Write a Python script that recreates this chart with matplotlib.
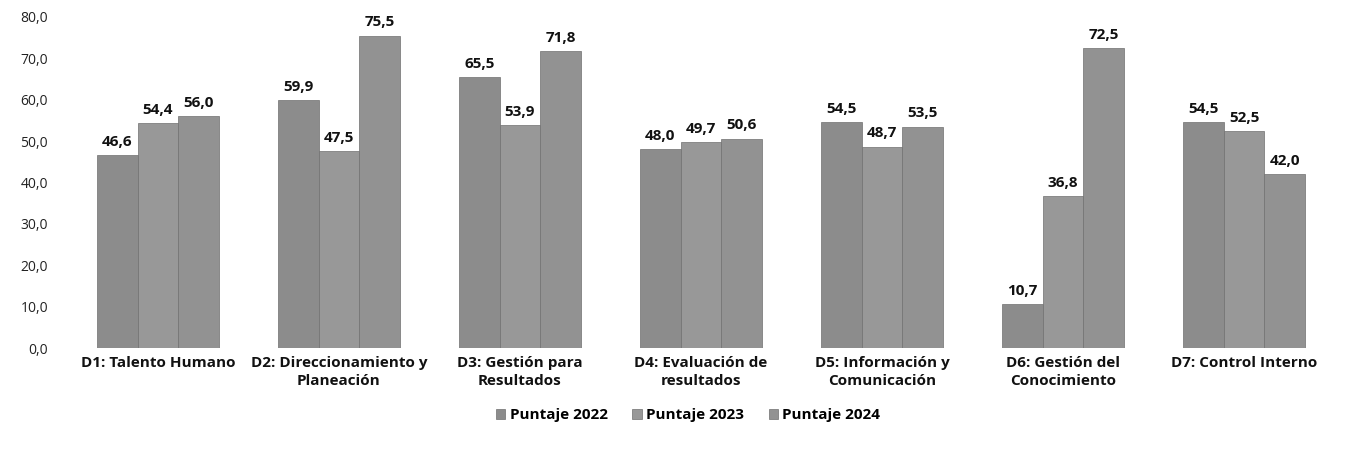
import matplotlib.pyplot as plt
import numpy as np

# === Data ===
categories = ["D1: Talento Humano", "D2: Direccionamiento y\nPlaneación",
              "D3: Gestión para\nResultados", "D4: Evaluación de\nresultados",
              "D5: Información y\nComunicación", "D6: Gestión del\nConocimiento",
              "D7: Control Interno"]
series_names = ["Puntaje 2022", "Puntaje 2023", "Puntaje 2024"]
p2022 = [46.6, 59.9, 65.5, 48.0, 54.5, 10.7, 54.5]
p2023 = [54.4, 47.5, 53.9, 49.7, 48.7, 36.8, 52.5]
p2024 = [56.0, 75.5, 71.8, 50.6, 53.5, 72.5, 42.0]
colors = ["#8c8c8c", "#989898", "#929292"]

plt.rcParams['font.family'] = ['Open Sans', 'DejaVu Sans']

fig = plt.figure(figsize=(13.48, 4.58), dpi=100)
ax = fig.add_axes([0.05, 0.24, 0.94, 0.723])

x = np.arange(len(categories))
w = 0.225
for i, (vals, name) in enumerate(zip([p2022, p2023, p2024], series_names)):
    xs = x + (i - 1) * w
    bars = ax.bar(xs, vals, w, color=colors[i], label=name,
                  edgecolor="#707070", linewidth=0.5)
    for b, v in zip(bars, vals):
        ax.text(b.get_x() + b.get_width() / 2, v + 1.5, f"{v:.1f}".replace(".", ","),
                ha="center", va="bottom", fontsize=11, fontweight="bold", color="#111111")

ax.set_xlim(-0.5, len(categories) - 0.5)
ax.set_ylim(0, 80)
ax.set_yticks(np.arange(0, 81, 10))
ax.set_yticklabels([f"{t:.1f}".replace(".", ",") for t in np.arange(0, 81, 10)],
                   fontsize=10, color="#222222")
ax.set_xticks(x)
ax.set_xticklabels(categories, fontsize=11, fontweight="bold", color="#111111",
                   linespacing=1.35)
ax.tick_params(axis="both", length=0, pad=6)
ax.tick_params(axis="y", pad=14)
for s in ax.spines.values():
    s.set_visible(False)

ax.legend(loc="upper center", bbox_to_anchor=(0.49, -0.14), ncol=3, frameon=False,
          prop={"weight": "bold", "size": 11},
          handlelength=0.6, handleheight=0.6, handletextpad=0.3, columnspacing=1.6)

fig.savefig("out.png", dpi=100)
